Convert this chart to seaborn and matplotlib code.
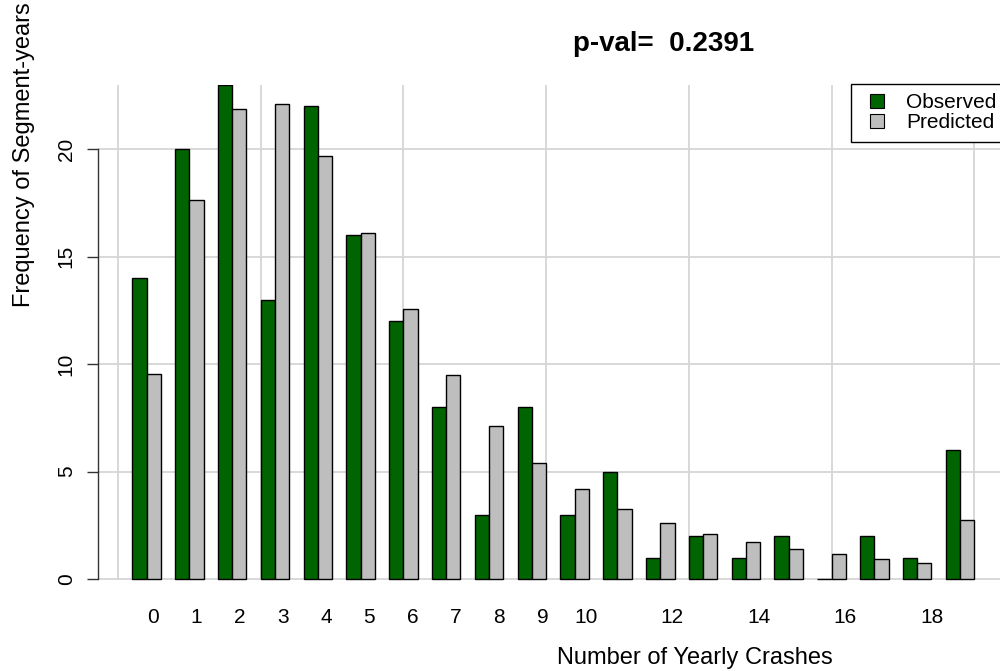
import numpy as np
import pandas as pd
import matplotlib
matplotlib.use("Agg")
import matplotlib.pyplot as plt
import seaborn as sns
from matplotlib.lines import Line2D

# ---- data ----
crashes = list(range(20))
observed = [14, 20, 23, 13, 22, 16, 12, 8, 3, 8, 3, 5, 1, 2, 1, 2, 0, 2, 1, 6]
predicted = [9.52, 17.63, 21.85, 22.10, 19.67, 16.10, 12.54, 9.47, 7.13, 5.41,
             4.17, 3.24, 2.59, 2.10, 1.74, 1.40, 1.15, 0.92, 0.76, 2.76]
tick_labels = ["0", "1", "2", "3", "4", "5", "6", "7", "8", "9", "10", "",
               "12", "", "14", "", "16", "", "18", ""]
y_ticks = [0, 5, 10, 15, 20]
series_names = ["Observed", "Predicted"]
series_colors = ["#006400", "#BEBEBE"]
title_text = "p-val=  0.2391"
xlabel_text = "Number of Yearly Crashes"
ylabel_text = "Frequency of Segment-years"

sns.set_style("white")
plt.rcParams["font.family"] = ["Liberation Sans", "DejaVu Sans"]
plt.rcParams["text.color"] = "black"
plt.rcParams["axes.labelcolor"] = "black"
plt.rcParams["xtick.color"] = "black"
plt.rcParams["ytick.color"] = "black"

W, H = 1000, 671
fig = plt.figure(figsize=(W / 100, H / 100), dpi=100)

# axes in pixel layout (extends past right edge like the cropped original)
ax_left, ax_right, ax_top, ax_bottom = 98, 1150, 84.5, 598.4
ax = fig.add_axes([ax_left / W, 1 - ax_bottom / H,
                   (ax_right - ax_left) / W, (ax_bottom - ax_top) / H])

# group positions in R-barplot units (two bars of width 1 + one space)
pos = [3 * i + 2 for i in crashes]
df = pd.DataFrame({
    "pos": pos * 2,
    "value": observed + predicted,
    "series": [series_names[0]] * len(crashes) + [series_names[1]] * len(crashes),
})

sns.barplot(data=df, x="pos", y="value", hue="series", native_scale=True,
            width=2 / 3, palette=series_colors, saturation=1,
            edgecolor="black", linewidth=1.0, errorbar=None, legend=False,
            ax=ax, zorder=3)

unit_px = 14.27
x0 = (ax_left - 118) / unit_px
x1 = (ax_right - 118) / unit_px
ax.set_xlim(x0, x1)
ax.set_ylim(-0.9, 23)

# grid
grid_c = "#D6D6D6"
ax.vlines(np.arange(0, 71, 10), 0, 23, colors=grid_c, linewidth=1.3, zorder=0)
ax.hlines(y_ticks, x0, x1, colors=grid_c, linewidth=1.3, zorder=0)

# x ticks
xt = [3 * i + 2 + 0.45 + 0.033 * i for i in crashes]
ax.set_xticks(xt)
ax.set_xticklabels(tick_labels, fontsize=15)
ax.tick_params(axis="x", bottom=False, length=0, pad=7, labelcolor="black")

# y ticks
ax.set_yticks(y_ticks)
ax.set_yticklabels([str(v) for v in y_ticks], fontsize=15, rotation=90, va="center")
ax.tick_params(axis="y", left=True, length=8, width=1, color="#333333", pad=8,
               labelcolor="black")

for s in ["top", "right", "bottom"]:
    ax.spines[s].set_visible(False)
ax.spines["left"].set_bounds(0, 20)
ax.spines["left"].set_color("#333333")
ax.spines["left"].set_linewidth(1.0)
ax.set_xlabel("")
ax.set_ylabel("")

# texts
fig.text(664 / W, 1 - 51 / H, title_text, ha="center", va="baseline",
         fontsize=20, fontweight="bold", color="black")
fig.text(695 / W, 1 - 664 / H, xlabel_text, ha="center", va="baseline",
         fontsize=17, color="black")
fig.text(30 / W, 1 - 155 / H, ylabel_text, ha="center", va="baseline",
         rotation=90, rotation_mode="anchor", fontsize=17, color="black")

# legend
handles = [Line2D([], [], marker="s", linestyle="none", markersize=9.5,
                  markerfacecolor=c, markeredgecolor="black", markeredgewidth=0.8,
                  label=n) for n, c in zip(series_names, series_colors)]
leg = ax.legend(handles=handles, loc="upper left",
                bbox_to_anchor=(851 / W, 1 - 84 / H), bbox_transform=fig.transFigure,
                frameon=True, fancybox=False, edgecolor="black", framealpha=1,
                fontsize=15, handlelength=1.6, handletextpad=0.6,
                labelspacing=0.05, borderpad=0.45, borderaxespad=0)
leg.get_frame().set_linewidth(1.0)
for t in leg.get_texts():
    t.set_color("black")

fig.savefig("out.png", dpi=100)
